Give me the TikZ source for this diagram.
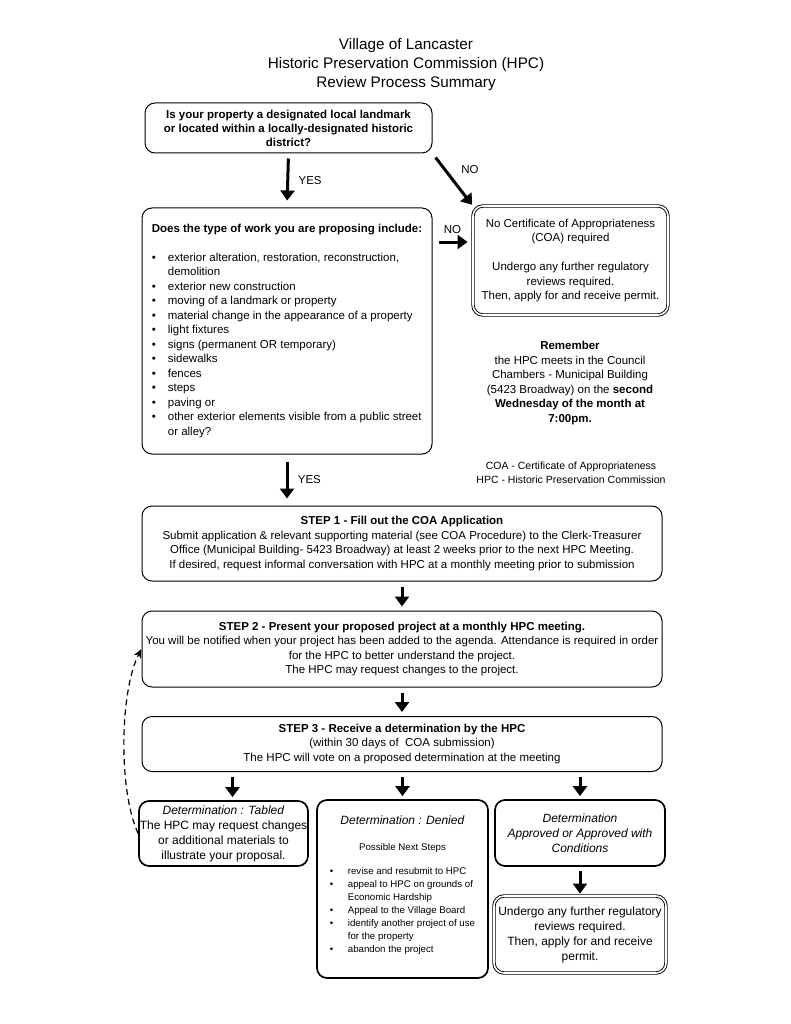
\documentclass[tikz,border=0pt]{standalone}
\usepackage{fontspec}
\setmainfont{Liberation Sans}
\usetikzlibrary{arrows.meta}

\begin{document}
\begin{tikzpicture}[x=1pt,y=-1pt,
    box/.style={draw,rounded corners=10pt,line width=1pt,inner sep=0pt,align=center},
    detbox/.style={box,line width=1.7pt},
    permitbox/.style={box,double,line width=0.9pt,double distance=1.6pt},
    bigarrow/.style={line width=3pt,-{Triangle[length=10pt,width=14pt]}},
    ]
    \providecommand{\titlefontsize}{\fontsize{15.3}{19}\selectfont}
    \providecommand{\textfontsize}{\fontsize{11.5}{14.5}\selectfont}
    \providecommand{\detfontsize}{\fontsize{12}{15}\selectfont}
    \providecommand{\smallfontsize}{\fontsize{9.7}{13}\selectfont}
    \providecommand{\listbullet}{\makebox[16pt][l]{\textbullet}}
    \providecommand{\listindent}{\hspace*{16pt}}
    \useasboundingbox (0,0) rectangle (791,1024);
    \node[align=center,font=\titlefontsize] (title) at (406,64.5) {Village of Lancaster\\Historic Preservation Commission (HPC)\\Review Process Summary};
    % questions
    \node[box,minimum width=287,minimum height=50,font=\bfseries\fontsize{11.5}{14}\selectfont] (landmark) at (288.5,128) {Is your property a designated local landmark\\or located within a locally-designated historic\\district?};
    \node[box,minimum width=290,minimum height=246,align=left,font=\textfontsize] (worktype) at (287,331) {\textbf{Does the type of work you are proposing include:}\\[14pt]
        \listbullet exterior alteration, restoration, reconstruction,\\
        \listindent demolition\\
        \listbullet exterior new construction\\
        \listbullet moving of a landmark or property\\
        \listbullet material change in the appearance of a property\\
        \listbullet light fixtures\\
        \listbullet signs (permanent OR temporary)\\
        \listbullet sidewalks\\
        \listbullet fences\\
        \listbullet steps\\
        \listbullet paving or\\
        \listbullet other exterior elements visible from a public street\\
        \listindent or alley?};
    \node[permitbox,minimum width=195,minimum height=109,font=\textfontsize] (nocoa) at (570.5,260.5) {No Certificate of Appropriateness\\(COA) required\\[14.5pt]Undergo any further regulatory\\reviews required.\\Then, apply for and receive permit.};
    \node[align=center,font=\textfontsize] (remember) at (570,383) {\textbf{Remember}\\the HPC meets in the Council\\Chambers - Municipal Building\\(5423 Broadway) on the \textbf{second}\\\textbf{Wednesday of the month at}\\\textbf{7:00pm.}};
    \node[align=center,font=\fontsize{10.5}{14}\selectfont] (legend) at (571,473) {COA - Certificate of Appropriateness\\HPC - Historic Preservation Commission};
    % steps
    \node[box,minimum width=520,minimum height=75,font=\textfontsize] (step1) at (402,543.5) {\textbf{STEP 1 - Fill out the COA Application}\\Submit application \& relevant supporting material (see COA Procedure) to the Clerk-Treasurer\\Office (Municipal Building- 5423 Broadway) at least 2 weeks prior to the next HPC Meeting.\\If desired, request informal conversation with HPC at a monthly meeting prior to submission};
    \node[box,minimum width=520,minimum height=76,font=\textfontsize] (step2) at (402,649) {\textbf{STEP 2 - Present your proposed project at a monthly HPC meeting.}\\You will be notified when your project has been added to the agenda. Attendance is required in order\\for the HPC to better understand the project.\\The HPC may request changes to the project.};
    \node[box,minimum width=520,minimum height=55,font=\textfontsize] (step3) at (402,744) {\textbf{STEP 3 - Receive a determination by the HPC}\\(within 30 days of~ COA submission)\\The HPC will vote on a proposed determination at the meeting};
    % determinations
    \node[detbox,minimum width=169,minimum height=65,font=\detfontsize] (tabled) at (223.5,833.5) {\textit{Determination : Tabled}\\The HPC may request changes\\or additional materials to\\illustrate your proposal.};
    \node[detbox,minimum width=171,minimum height=178,font=\detfontsize] (denied) at (402.5,889) {\textit{Determination : Denied}\\[11pt]{\smallfontsize Possible Next Steps}\\[12pt]
        {\smallfontsize\begin{tabular}{@{}l@{}}
        \makebox[18pt][l]{\textbullet}revise and resubmit to HPC\\
        \makebox[18pt][l]{\textbullet}appeal to HPC on grounds of\\
        \hspace*{18pt}Economic Hardship\\
        \makebox[18pt][l]{\textbullet}Appeal to the Village Board\\
        \makebox[18pt][l]{\textbullet}identify another project of use\\
        \hspace*{18pt}for the property\\
        \makebox[18pt][l]{\textbullet}abandon the project
        \end{tabular}}\\[4pt]\rule{0pt}{0pt}};
    \node[detbox,minimum width=170,minimum height=66,font=\detfontsize\itshape] (approved) at (580,833) {Determination\\Approved or Approved with\\Conditions};
    \node[permitbox,minimum width=172,minimum height=77,font=\detfontsize] (permit) at (580,934.5) {Undergo any further regulatory\\reviews required.\\Then, apply for and receive\\permit.};
    % connectors
    \coordinate (noentry) at ([yshift=18.5pt]nocoa.west);
    \draw[bigarrow,shorten <=5pt,shorten >=7pt] (landmark.south) -- (worktype.north) node[midway,right=6pt,font=\textfontsize] {YES};
    \draw[bigarrow,shorten <=5pt,shorten >=1pt] (landmark.south east) -- (nocoa.north west) node[pos=0.3,right=12pt,font=\textfontsize] {NO};
    \draw[bigarrow,shorten <=6pt,shorten >=5pt] (worktype.east |- noentry) -- (noentry) node[midway,above=4pt,font=\textfontsize] {NO};
    \draw[bigarrow,shorten <=7pt,shorten >=7pt] (worktype.south) -- (worktype.south |- step1.north) node[midway,right=6pt,font=\textfontsize] {YES};
    \draw[bigarrow,shorten <=5pt,shorten >=4pt] (step1.south) -- (step2.north);
    \draw[bigarrow,shorten <=5pt,shorten >=4pt] (step2.south) -- (step3.north);
    \draw[bigarrow,shorten <=5pt,shorten >=3pt] ([xshift=9pt]tabled.north |- step3.south) -- ([xshift=9pt]tabled.north);
    \draw[bigarrow,shorten <=5pt,shorten >=3pt] (denied.north |- step3.south) -- (denied.north);
    \draw[bigarrow,shorten <=5pt,shorten >=3pt] (approved.north |- step3.south) -- (approved.north);
    \draw[bigarrow,shorten <=4pt,shorten >=2pt] (approved.south) -- (permit.north);
    \draw[line width=1.2pt,dash pattern=on 6pt off 4pt,-{Stealth[length=9pt,width=8pt]}] (tabled.west) .. controls (118,790) and (120,690) .. (step2.west);
\end{tikzpicture}
\end{document}
